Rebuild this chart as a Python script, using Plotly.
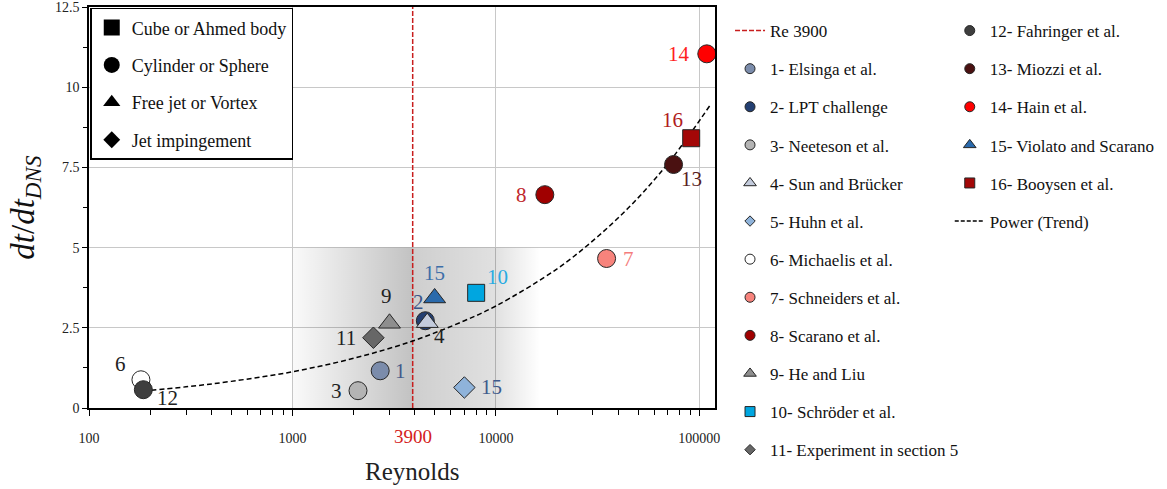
import numpy as np
import plotly.graph_objects as go

FONT = "Liberation Serif"

# ---------------- data ----------------
studies = ["1- Elsinga et al.", "2- LPT challenge", "3- Neeteson et al.", "4- Sun and Brücker",
           "5- Huhn et al.", "6- Michaelis et al.", "7- Schneiders et al.", "8- Scarano et al.",
           "9- He and Liu", "10- Schröder et al.", "11- Experiment in section 5",
           "12- Fahringer et al.", "13- Miozzi et al.", "14- Hain et al.",
           "15- Violato and Scarano", "16- Booysen et al."]
reynolds = [2700, 4500, 2100, 4600, 7000, 180, 35000, 17400, 3000, 8000, 2500, 185, 74700, 108800, 5000, 91200]
dt_ratio = [1.16, 2.72, 0.54, 2.66, 0.64, 0.88, 4.66, 6.65, 2.64, 3.59, 2.19, 0.57, 7.59, 11.04, 3.43, 8.41]
point_labels = ["1", "2", "3", "4", "15", "6", "7", "8", "9", "10", "11", "12", "13", "14", "15", "16"]

# power trend line
trend_re = [185, 300, 500, 1000, 2000, 3900, 7000, 10000, 20000, 32000, 50000, 75000, 113000]
trend_val = [0.53, 0.66, 0.83, 1.13, 1.55, 2.09, 2.72, 3.18, 4.34, 5.37, 6.55, 7.86, 9.44]

ref_re = 3900
shade_re = [1000, 16500]
shade_val = [0, 5]

shape_names = ["Cube or Ahmed body", "Cylinder or Sphere", "Free jet or Vortex", "Jet impingement"]

x_tickvals = [100, 1000, 10000, 100000]
x_ticktext = ["100", "1000", "10000", "100000"]
y_tickvals = [0, 2.5, 5, 7.5, 10, 12.5]
y_ticktext = ["0", "2.5", "5", "7.5", "10", "12.5"]

# ---------------- styles ----------------
symbols = ["circle", "circle", "circle", "triangle-up", "diamond", "circle", "circle", "circle",
           "triangle-up", "square", "diamond", "circle", "circle", "circle", "triangle-up", "square"]
fills = ["#7b8cab", "#233f72", "#b4b4b4", "#c3cbdc", "#8fb3da", "#ffffff", "#f7837c", "#a00000",
         "#8e8e8e", "#00a6e0", "#676767", "#3e3e3e", "#4a1111", "#ff0000", "#2a6aac", "#a30707"]
label_colors = ["#43598b", "#3a5488", "#222222", "#222222", "#3d5a8c", "#222222", "#f47c7c", "#c0282d",
                "#222222", "#29abe2", "#222222", "#222222", "#5a1f1f", "#ff2020", "#3d6ea8", "#b01c1c"]
label_offsets = [(20, 0), (-7, -19), (-22, 0), (12, 13), (27, 0), (-20, -16), (22, 0), (-23, 0),
                 (-3, -27), (21, -16), (-27, 0), (24, 8), (18, 14), (-28, 0), (0, -25), (-19, -18)]
plot_size = {"circle": 18, "triangle-up": 19, "square": 17, "diamond": 16.5}
leg_size = {"circle": 10, "triangle-up": 11, "square": 10, "diamond": 8}

fig = go.Figure()

# shaded region around Re 3900
fig.add_trace(go.Scatter(
    x=[shade_re[0], shade_re[1], shade_re[1], shade_re[0], shade_re[0]],
    y=[shade_val[0], shade_val[0], shade_val[1], shade_val[1], shade_val[0]],
    fill="toself", mode="lines", line=dict(width=0, color="rgba(0,0,0,0)"),
    fillgradient=dict(type="horizontal", colorscale=[
        [0.0, "rgba(0,0,0,0.02)"], [0.486, "rgba(0,0,0,0.24)"], [0.49, "rgba(0,0,0,0.19)"],
        [0.82, "rgba(0,0,0,0.12)"], [1.0, "rgba(0,0,0,0.0)"]]),
    showlegend=False, hoverinfo="skip"))

# Re 3900 line
fig.add_trace(go.Scatter(x=[ref_re, ref_re], y=[0, 12.5], mode="lines",
                         line=dict(color="#c81e1e", width=1.5, dash="5px,2px"),
                         name="Re 3900", legend="legend", legendgroup="re"))

# trend
fig.add_trace(go.Scatter(x=trend_re, y=trend_val, mode="lines", line_shape="spline",
                         line=dict(color="black", width=1.5, dash="5px,3px"),
                         showlegend=False, hoverinfo="skip"))

# data points
for i, name in enumerate(studies):
    fig.add_trace(go.Scatter(
        x=[reynolds[i]], y=[dt_ratio[i]], mode="markers",
        marker=dict(symbol=symbols[i], size=plot_size[symbols[i]], color=fills[i],
                    line=dict(color="#262626", width=1)),
        showlegend=False, name=name))

# legend proxies
for i, name in enumerate(studies):
    fig.add_trace(go.Scatter(
        x=[None], y=[None], mode="markers",
        marker=dict(symbol=symbols[i], size=leg_size[symbols[i]], color=fills[i],
                    line=dict(color="#262626", width=1)),
        name=name, legend="legend" if i < 11 else "legend2", legendgroup=f"g{i}"))

fig.add_trace(go.Scatter(x=[None], y=[None], mode="lines",
                         line=dict(color="black", width=1.5, dash="4px,2px"),
                         name="Power (Trend)", legend="legend2", legendgroup="pw"))

shape_syms = ["square", "circle", "triangle-up", "diamond"]
shape_sz = [16, 16, 15, 13]
for k, nm in enumerate(shape_names):
    fig.add_trace(go.Scatter(x=[None], y=[None], mode="markers",
                             marker=dict(symbol=shape_syms[k], size=shape_sz[k], color="black"),
                             name=nm, legend="legend3", legendgroup=f"s{k}"))

# point labels
for i in range(len(studies)):
    dx, dy = label_offsets[i]
    fig.add_annotation(x=np.log10(reynolds[i]), y=dt_ratio[i], xref="x", yref="y",
                       text=point_labels[i], showarrow=False, xshift=dx, yshift=-dy,
                       xanchor="center", yanchor="middle",
                       font=dict(family=FONT, size=21, color=label_colors[i]))

fig.add_annotation(x=np.log10(ref_re), y=-0.072, xref="x", yref="paper", text="3900",
                   xanchor="center", yanchor="middle",
                   showarrow=False, font=dict(family=FONT, size=19, color="#d42020"))
fig.add_annotation(x=0.516, y=-0.158, xref="paper", yref="paper", text="Reynolds",
                   xanchor="center", yanchor="middle",
                   showarrow=False, font=dict(family=FONT, size=25, color="#222222"))
fig.add_annotation(x=-0.102, y=0.5, xref="paper", yref="paper", textangle=-90,
                   xanchor="center", yanchor="middle",
                   text="<i>dt</i>/<i>dt</i><sub><i>DNS</i></sub>",
                   showarrow=False, font=dict(family=FONT, size=33, color="#111111"))

fig.update_layout(
    width=1167, height=489,
    margin=dict(l=89, r=452, t=7, b=81, autoexpand=False),
    paper_bgcolor="white", plot_bgcolor="white",
    font=dict(family=FONT, size=17, color="#111111"),
    xaxis=dict(type="log", range=[2, 5.077], tickvals=x_tickvals, ticktext=x_ticktext,
               automargin=False, ticklabeloverflow="allow",
               showgrid=True, gridcolor="#c8c8c8", gridwidth=1,
               showline=True, linecolor="black", linewidth=1.5, mirror=True,
               ticks="outside", ticklen=6, tickcolor="black", tickwidth=1.2,
               ticklabelstandoff=10,
               minor=dict(ticks="outside", ticklen=5, tickcolor="black", tickwidth=1, showgrid=False,
                          tickvals=[200, 300, 400, 500, 600, 700, 800, 900,
                                    2000, 3000, 4000, 5000, 6000, 7000, 8000, 9000,
                                    20000, 30000, 40000, 50000, 60000, 70000, 80000, 90000]),
               tickfont=dict(family=FONT, size=14, color="#222222"), zeroline=False),
    yaxis=dict(range=[0, 12.5], tickvals=y_tickvals, ticktext=y_ticktext,
               automargin=False, ticklabeloverflow="allow",
               showgrid=True, gridcolor="#c8c8c8", gridwidth=1,
               showline=True, linecolor="black", linewidth=1.5, mirror=True,
               ticks="outside", ticklen=5, tickcolor="black", tickwidth=1.2,
               minor=dict(ticks="outside", ticklen=4, dtick=1.25, tickcolor="black", showgrid=False),
               tickfont=dict(family=FONT, size=14, color="#222222"), zeroline=False),
    legend=dict(x=1.024, y=0.985, xanchor="left", yanchor="top", bgcolor="rgba(0,0,0,0)",
                font=dict(family=FONT, size=17), tracegroupgap=13, traceorder="grouped",
                itemsizing="trace", maxheight=489),
    legend2=dict(x=1.375, y=0.985, xanchor="left", yanchor="top", bgcolor="rgba(0,0,0,0)",
                 font=dict(family=FONT, size=17), tracegroupgap=13, traceorder="grouped",
                 itemsizing="trace", maxheight=489),
    legend3=dict(x=0.002, y=0.998, xanchor="left", yanchor="top", bgcolor="white",
                 bordercolor="black", borderwidth=1.5,
                 font=dict(family=FONT, size=18), tracegroupgap=11, traceorder="grouped",
                 itemsizing="trace"),
)

fig.write_html("out.html")
